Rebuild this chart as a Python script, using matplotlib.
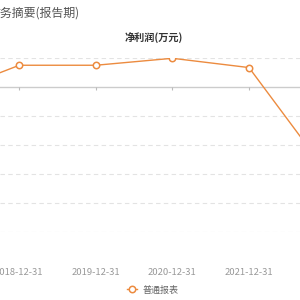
import matplotlib
matplotlib.use("Agg")
import matplotlib.pyplot as plt
from matplotlib.lines import Line2D

plt.rcParams['font.family'] = ['Noto Sans CJK SC', 'DejaVu Sans']

# ---- data ----
categories = ['2017-12-31', '2018-12-31', '2019-12-31', '2020-12-31', '2021-12-31', '2022-12-31']
net_profit = [-270, 750, 750, 990, 670, -2880]   # 万元 (estimated)
y_ticks = [-5000, -4000, -3000, -2000, -1000, 0, 1000]
series_name = '普通报表'
title = '财务摘要(报告期)'
subtitle = '净利润(万元)'

ORANGE = '#EC8B3F'
W, H = 300, 300
fig = plt.figure(figsize=(3, 3), dpi=100)

# axes: top at y=58px, bottom at y=232px, full width
top_px, bot_px = 58, 232
ax = fig.add_axes([0, (H - bot_px) / H, 1, (bot_px - top_px) / H])
x = list(range(len(categories)))

for s in ax.spines.values():
    s.set_visible(False)

# grid lines
for v in y_ticks:
    if v == 0:
        ax.axhline(v, color='#cccccc', lw=1.0, zorder=1)
    else:
        ax.axhline(v, color='#e3e3e3', lw=0.8, ls=(0, (4, 3)), zorder=1)

# ticks on the zero line
ax.plot(x, [0] * len(x), ls='none', marker=3, ms=2.5, mew=0.8, color='#bbbbbb', zorder=1)

ax.set_yticks([])
ax.set_xticks(x, categories)
ax.tick_params(axis='x', length=0, pad=26, labelsize=6.8, labelcolor='#999999')

ax.plot(x, net_profit, color=ORANGE, lw=1.0, marker='o', ms=4.6, mfc='white',
        mec=ORANGE, mew=1.1, zorder=3, clip_on=True)

ax.set_xlim(0.748, 4.666)
ax.set_ylim(y_ticks[0], y_ticks[-1])

fig.text(-11 / W, 1 - 13 / H, title, ha='left', va='center', fontsize=8.6, color='#555555')
fig.text(153.5 / W, 1 - 37.5 / H, subtitle, ha='center', va='center', fontsize=7.3,
         fontweight='bold', color='#333333')

handle = Line2D([], [], color=ORANGE, lw=1.0, marker='o', ms=4.6, mfc='white', mec=ORANGE, mew=1.1)
fig.legend([handle], [series_name], loc='center', bbox_to_anchor=(152.5 / W, 1 - 290 / H),
           frameon=False, fontsize=6.5, labelcolor='#666666', handlelength=1.1,
           handletextpad=0.6, borderpad=0, borderaxespad=0)

fig.savefig('out.png', dpi=100)
